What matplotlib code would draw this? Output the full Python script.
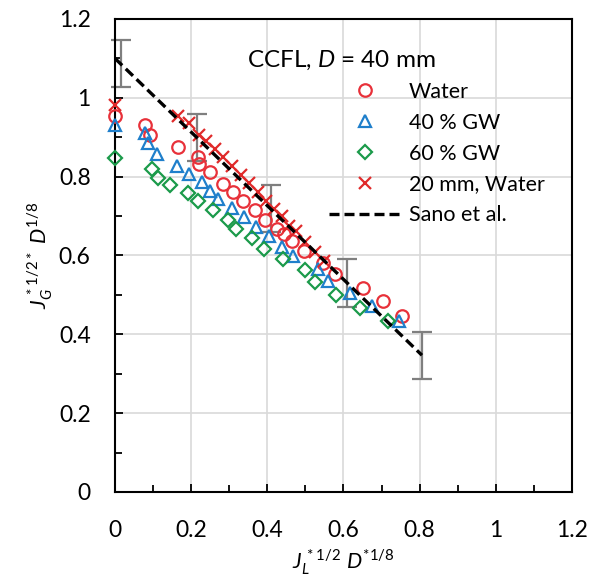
import matplotlib
matplotlib.use("Agg")
import matplotlib.pyplot as plt
from matplotlib.ticker import MultipleLocator

plt.rcParams['font.family'] = ['Lato', 'DejaVu Sans']
plt.rcParams['mathtext.fontset'] = 'custom'
plt.rcParams['mathtext.rm'] = 'Lato'
plt.rcParams['mathtext.it'] = 'Lato:italic'

# Data
water_x = [0, 0.078, 0.093, 0.166, 0.217, 0.22, 0.25, 0.283, 0.31, 0.337, 0.367, 0.394, 0.425, 0.445, 0.464, 0.497, 0.545, 0.578, 0.652, 0.703, 0.753]
water_y = [0.955, 0.932, 0.906, 0.876, 0.85, 0.833, 0.812, 0.782, 0.762, 0.737, 0.715, 0.69, 0.668, 0.655, 0.637, 0.612, 0.582, 0.553, 0.517, 0.485, 0.447]

gw40_x = [0, 0.078, 0.087, 0.11, 0.162, 0.195, 0.228, 0.25, 0.271, 0.308, 0.34, 0.37, 0.405, 0.438, 0.468, 0.533, 0.56, 0.617, 0.675, 0.747]
gw40_y = [0.931, 0.91, 0.886, 0.857, 0.826, 0.806, 0.786, 0.764, 0.743, 0.72, 0.697, 0.672, 0.65, 0.622, 0.598, 0.565, 0.536, 0.506, 0.472, 0.435]

gw60_x = [0, 0.096, 0.114, 0.144, 0.193, 0.219, 0.258, 0.298, 0.318, 0.36, 0.39, 0.44, 0.499, 0.525, 0.58, 0.643, 0.718]
gw60_y = [0.847, 0.82, 0.796, 0.779, 0.758, 0.737, 0.716, 0.69, 0.667, 0.644, 0.616, 0.59, 0.563, 0.532, 0.5, 0.466, 0.435]

mm20_x = [0, 0.165, 0.195, 0.22, 0.24, 0.262, 0.284, 0.306, 0.33, 0.352, 0.375, 0.397, 0.418, 0.438, 0.458, 0.476, 0.5, 0.525, 0.548]
mm20_y = [0.982, 0.953, 0.935, 0.905, 0.89, 0.87, 0.85, 0.826, 0.805, 0.783, 0.76, 0.737, 0.718, 0.699, 0.675, 0.662, 0.635, 0.61, 0.585]

sano_x = [0, 0.806]
sano_y = [1.1, 0.347]

err_x = [0.015, 0.215, 0.41, 0.608, 0.806]
err_y = [1.087, 0.9, 0.719, 0.53, 0.346]
err_half = [0.06, 0.06, 0.06, 0.06, 0.06]

tick_vals = [0, 0.2, 0.4, 0.6, 0.8, 1.0, 1.2]
tick_labels = ['0', '0.2', '0.4', '0.6', '0.8', '1', '1.2']

fig = plt.figure(figsize=(5.98, 5.81), dpi=100)
ax = fig.add_axes([0.1923, 0.1532, 0.7642, 0.8141])

ax.errorbar(err_x, err_y, yerr=err_half, fmt='none', ecolor='#7f7f7f',
            elinewidth=1.6, capsize=7, capthick=1.6, zorder=2, clip_on=False)

red = '#e8313a'
blue = '#1f7fcb'
green = '#1b9a4a'

ax.plot(water_x, water_y, 'o', ms=9, mfc='none', mec=red, mew=1.6, label='Water', zorder=3, clip_on=False)
ax.plot(gw40_x, gw40_y, '^', ms=9, mfc='none', mec=blue, mew=1.6, label='40 % GW', zorder=3, clip_on=False)
ax.plot(gw60_x, gw60_y, 'D', ms=7, mfc='none', mec=green, mew=1.6, label='60 % GW', zorder=3, clip_on=False)
ax.plot(mm20_x, mm20_y, 'x', ms=9, mec='#e02a2a', mew=1.6, label='20 mm, Water', zorder=4, clip_on=False)
ax.plot(sano_x, sano_y, color='black', lw=2.4, dashes=(3, 1.5), label='Sano et al.', zorder=5)

ax.set_xlim(0, 1.2)
ax.set_ylim(0, 1.2)
ax.xaxis.set_minor_locator(MultipleLocator(0.1))
ax.yaxis.set_minor_locator(MultipleLocator(0.1))
ax.set_xticks(tick_vals)
ax.set_xticklabels(tick_labels)
ax.set_yticks(tick_vals)
ax.set_yticklabels(tick_labels)
ax.grid(True, which='major', color='#d9d9d9', lw=1.2, zorder=0)
ax.set_axisbelow(True)
ax.tick_params(which='both', direction='in', top=False, right=False, width=1.3, color='black',
               labelsize=16.5)
ax.tick_params(which='major', length=6)
ax.tick_params(which='minor', length=5)
ax.tick_params(axis='x', which='major', pad=20)
ax.tick_params(axis='y', which='major', pad=17.5)
for s in ax.spines.values():
    s.set_linewidth(1.5)
    s.set_color('black')

ax.set_xlabel(r'$J_L^{\,*1/2}\ D^{*1/8}$', fontsize=15.5, labelpad=5)
ax.set_ylabel(r'$J_G^{\,*1/2*}\ D^{1/8}$', fontsize=15.5, labelpad=3)

ax.text(0.289, 0.913, r'CCFL, $D$ = 40 mm', transform=ax.transAxes, fontsize=17.5,
        ha='left', va='center')

ax.legend(loc='upper left', bbox_to_anchor=(0.45, 0.885), frameon=False, fontsize=15.5,
          handlelength=3.3, handletextpad=0.4, labelspacing=0.5, borderaxespad=0)

fig.savefig('out.png', dpi=100)
